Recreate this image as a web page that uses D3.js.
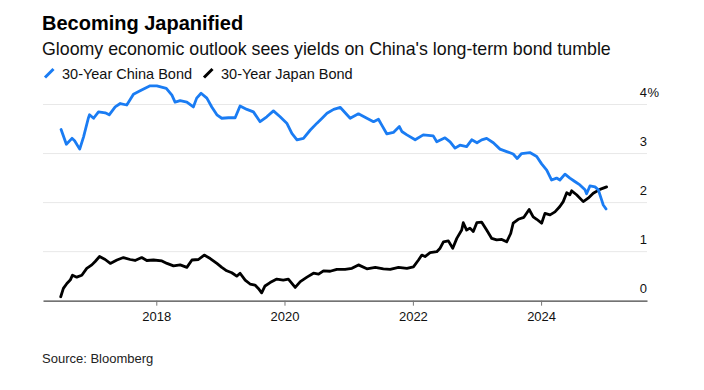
<!DOCTYPE html>
<html>
<head>
<meta charset="utf-8">
<script src="https://cdn.jsdelivr.net/npm/d3@7"></script>
<style>
  body { margin: 0; background: #fff; }
  svg { font-family: "Liberation Sans", Arial, Helvetica, sans-serif; }
</style>
</head>
<body>
<div id="chart"></div>
<script>
const TITLE = "Becoming Japanified";
const SUBTITLE = "Gloomy economic outlook sees yields on China's long-term bond tumble";
const SOURCE = "Source: Bloomberg";
const SERIES_NAMES = ["30-Year China Bond", "30-Year Japan Bond"];
const SERIES_COLORS = ["#1a7cf3", "#000000"];
const Y_TICKS = [0, 1, 2, 3, 4];
const X_TICK_YEARS = [2018, 2020, 2022, 2024];

const chinaDates = [
  "2016-07-08", "2016-08-07", "2016-09-08", "2016-09-23", "2016-10-22", "2016-11-13",
  "2016-12-10", "2016-12-17", "2017-01-09", "2017-02-06", "2017-03-16", "2017-04-08",
  "2017-05-12", "2017-06-10", "2017-07-17", "2017-08-24", "2017-10-01", "2017-11-27",
  "2018-01-04", "2018-02-27", "2018-03-31", "2018-04-18", "2018-05-17", "2018-06-24",
  "2018-07-31", "2018-08-19", "2018-09-13", "2018-10-16", "2018-11-13", "2018-12-12",
  "2019-01-09", "2019-02-16", "2019-03-26", "2019-04-23", "2019-06-01", "2019-07-08",
  "2019-08-15", "2019-09-22", "2019-10-30", "2019-12-07", "2020-01-14", "2020-02-12",
  "2020-03-12", "2020-04-18", "2020-05-27", "2020-07-04", "2020-08-02", "2020-08-30",
  "2020-10-07", "2020-11-14", "2021-01-09", "2021-02-25", "2021-04-14", "2021-05-22",
  "2021-06-19", "2021-07-08", "2021-08-06", "2021-09-12", "2021-10-16", "2021-10-30",
  "2021-11-28", "2022-01-14", "2022-03-01", "2022-04-27", "2022-05-17", "2022-07-03",
  "2022-08-01", "2022-08-29", "2022-09-26", "2022-11-03", "2022-12-02", "2023-01-01",
  "2023-01-28", "2023-02-25", "2023-04-04", "2023-05-12", "2023-06-19", "2023-07-26",
  "2023-08-18", "2023-09-12", "2023-10-29", "2023-12-07", "2024-01-04", "2024-02-02",
  "2024-03-01", "2024-03-29", "2024-04-17", "2024-05-16", "2024-06-13", "2024-07-11",
  "2024-08-09", "2024-09-07", "2024-09-16", "2024-10-05", "2024-11-03", "2024-11-22",
  "2024-12-11", "2024-12-20", "2025-01-05"
];
const chinaYields = [
  3.49, 3.19, 3.31, 3.26, 3.09, 3.34,
  3.72, 3.79, 3.72, 3.85, 3.83, 3.79,
  3.95, 4.02, 3.99, 4.21, 4.28, 4.38,
  4.38, 4.33, 4.19, 4.05, 4.08, 4.05,
  3.95, 4.13, 4.23, 4.13, 3.95, 3.79,
  3.72, 3.73, 3.73, 3.97, 3.90, 3.85,
  3.65, 3.75, 3.87, 3.75, 3.62, 3.41,
  3.28, 3.31, 3.48, 3.62, 3.72, 3.82,
  3.90, 3.94, 3.72, 3.81, 3.72, 3.65,
  3.70, 3.58, 3.40, 3.43, 3.55, 3.45,
  3.38, 3.28, 3.38, 3.36, 3.24, 3.32,
  3.24, 3.11, 3.17, 3.14, 3.28, 3.22,
  3.28, 3.31, 3.22, 3.09, 3.04, 2.99,
  2.90, 3.00, 3.02, 2.94, 2.79, 2.66,
  2.46, 2.50, 2.46, 2.58, 2.50, 2.43,
  2.36, 2.26, 2.18, 2.34, 2.32, 2.26,
  2.05, 1.95, 1.87
];

const japanDates = [
  "2016-07-06", "2016-07-21", "2016-08-10", "2016-08-29", "2016-09-11", "2016-10-05",
  "2016-11-03", "2016-12-01", "2016-12-30", "2017-01-18", "2017-02-12", "2017-03-16",
  "2017-04-14", "2017-05-22", "2017-06-28", "2017-08-05", "2017-09-02", "2017-10-10",
  "2017-11-08", "2017-12-16", "2018-02-02", "2018-03-03", "2018-04-09", "2018-05-17",
  "2018-06-24", "2018-07-23", "2018-08-29", "2018-10-01", "2018-11-04", "2018-12-12",
  "2019-01-09", "2019-02-06", "2019-03-07", "2019-04-04", "2019-04-23", "2019-05-22",
  "2019-06-19", "2019-07-17", "2019-08-05", "2019-08-24", "2019-09-12", "2019-10-11",
  "2019-11-18", "2019-12-25", "2020-01-23", "2020-03-02", "2020-03-31", "2020-05-08",
  "2020-06-14", "2020-07-13", "2020-08-10", "2020-09-17", "2020-10-25", "2020-12-11",
  "2021-01-19", "2021-02-25", "2021-04-14", "2021-06-01", "2021-07-17", "2021-08-25",
  "2021-10-11", "2021-11-28", "2022-01-04", "2022-02-02", "2022-02-21", "2022-03-11",
  "2022-04-09", "2022-05-17", "2022-06-05", "2022-06-24", "2022-07-22", "2022-08-16",
  "2022-09-08", "2022-10-06", "2022-10-15", "2022-11-03", "2022-11-22", "2022-12-11",
  "2022-12-31", "2023-01-28", "2023-02-25", "2023-03-26", "2023-04-23", "2023-05-22",
  "2023-06-19", "2023-07-12", "2023-07-26", "2023-08-24", "2023-09-25", "2023-10-25",
  "2023-11-17", "2023-12-07", "2024-01-04", "2024-01-23", "2024-02-21", "2024-03-20",
  "2024-04-17", "2024-05-06", "2024-05-26", "2024-06-13", "2024-06-23", "2024-07-21",
  "2024-08-28", "2024-09-25", "2024-10-24", "2024-12-01", "2025-01-08"
];
const japanYields = [
  0.08, 0.25, 0.35, 0.42, 0.52, 0.48,
  0.52, 0.66, 0.73, 0.80, 0.90, 0.84,
  0.76, 0.83, 0.88, 0.84, 0.82, 0.88,
  0.82, 0.83, 0.81, 0.76, 0.71, 0.73,
  0.68, 0.83, 0.84, 0.93, 0.86, 0.76,
  0.68, 0.61, 0.57, 0.50, 0.56, 0.42,
  0.34, 0.32, 0.25, 0.16, 0.30, 0.37,
  0.44, 0.42, 0.44, 0.27, 0.39, 0.48,
  0.56, 0.54, 0.61, 0.60, 0.64, 0.64,
  0.66, 0.73, 0.65, 0.68, 0.65, 0.64,
  0.68, 0.66, 0.69, 0.83, 0.93, 0.90,
  0.98, 1.00, 1.07, 1.20, 1.22, 1.07,
  1.27, 1.44, 1.59, 1.44, 1.48, 1.41,
  1.59, 1.60, 1.44, 1.27, 1.24, 1.25,
  1.20, 1.37, 1.58, 1.66, 1.70, 1.86,
  1.71, 1.66, 1.58, 1.78, 1.75, 1.81,
  1.92, 2.02, 2.20, 2.16, 2.24, 2.16,
  2.02, 2.09, 2.19, 2.27, 2.32
];

const WIDTH = 704;
const HEIGHT = 390;
const PLOT = { LEFT: 43, RIGHT: 647, TOP: 104.5, BOTTOM: 300.7 };

const parseDate = d3.timeParse("%Y-%m-%d");
const series = [
  { name: SERIES_NAMES[0], color: SERIES_COLORS[0],
    values: chinaDates.map((d, i) => ({ date: parseDate(d), value: chinaYields[i] })) },
  { name: SERIES_NAMES[1], color: SERIES_COLORS[1],
    values: japanDates.map((d, i) => ({ date: parseDate(d), value: japanYields[i] })) }
];

const svg = d3
  .select("#chart")
  .append("svg")
  .attr("width", WIDTH)
  .attr("height", HEIGHT);

// TITLE
svg.append("text")
  .attr("x", 42)
  .attr("y", 29.5)
  .attr("font-size", "20px")
  .attr("font-weight", "bold")
  .style("fill", "#000")
  .text(TITLE);

svg.append("text")
  .attr("x", 42)
  .attr("y", 55)
  .attr("font-size", "17.8px")
  .style("fill", "#111")
  .text(SUBTITLE);

// LEGEND
const legendX = [45, 204];
const legend = svg.append("g");
series.forEach((s, i) => {
  legend.append("line")
    .attr("x1", legendX[i])
    .attr("y1", 77.5)
    .attr("x2", legendX[i] + 8.5)
    .attr("y2", 69)
    .attr("stroke", s.color)
    .attr("stroke-width", 3);
  legend.append("text")
    .attr("x", legendX[i] + 17)
    .attr("y", 78.5)
    .attr("font-size", "14.5px")
    .style("fill", "#111")
    .text(s.name);
});

// SCALES
const x = d3.scaleTime()
  .domain([new Date(2016, 2, 27), new Date(2025, 7, 26)])
  .range([PLOT.LEFT, PLOT.RIGHT]);
const y = d3.scaleLinear()
  .domain([0, 4])
  .range([PLOT.BOTTOM, PLOT.TOP]);

// GRID + Y LABELS
const grid = svg.append("g");
grid.selectAll("line")
  .data(Y_TICKS.filter((d) => d > 0))
  .join("line")
  .attr("x1", PLOT.LEFT)
  .attr("x2", PLOT.RIGHT)
  .attr("y1", (d) => y(d))
  .attr("y2", (d) => y(d))
  .attr("stroke", "#e8e8e8")
  .attr("stroke-width", 1);

grid.selectAll("text.ylab")
  .data(Y_TICKS)
  .join("text")
  .attr("class", "ylab")
  .attr("x", PLOT.RIGHT)
  .attr("y", (d) => y(d) - 8)
  .attr("text-anchor", "end")
  .attr("font-size", "13px")
  .style("fill", "#111")
  .text((d) => d);

grid.append("text")
  .attr("x", PLOT.RIGHT + 0.5)
  .attr("y", y(4) - 8)
  .attr("font-size", "13px")
  .style("fill", "#111")
  .text("%");

// X AXIS
const xAxisGroup = svg.append("g")
  .attr("transform", `translate(0, ${PLOT.BOTTOM})`)
  .call(d3.axisBottom(x)
    .tickValues(X_TICK_YEARS.map((yr) => new Date(yr, 0, 1)))
    .tickFormat(d3.timeFormat("%Y"))
    .tickSize(5)
    .tickSizeOuter(0)
    .tickPadding(6));
xAxisGroup.select(".domain")
  .attr("stroke", "#444")
  .attr("stroke-width", 1.3);
xAxisGroup.selectAll(".tick line").attr("stroke", "#777");
xAxisGroup.selectAll(".tick text")
  .attr("font-size", "13px")
  .attr("font-family", "'Liberation Sans', Arial, sans-serif")
  .style("fill", "#111");

// LINES
const line = d3.line()
  .x((d) => x(d.date))
  .y((d) => y(d.value));

svg.append("g")
  .selectAll("path")
  .data(series.slice().reverse())
  .join("path")
  .attr("d", (d) => line(d.values))
  .attr("fill", "none")
  .attr("stroke", (d) => d.color)
  .attr("stroke-width", 2.8)
  .attr("stroke-linejoin", "round")
  .attr("stroke-linecap", "round");

// SOURCE
svg.append("text")
  .attr("x", 42)
  .attr("y", 363)
  .attr("font-size", "13px")
  .style("fill", "#222")
  .text(SOURCE);
</script>
</body>
</html>
